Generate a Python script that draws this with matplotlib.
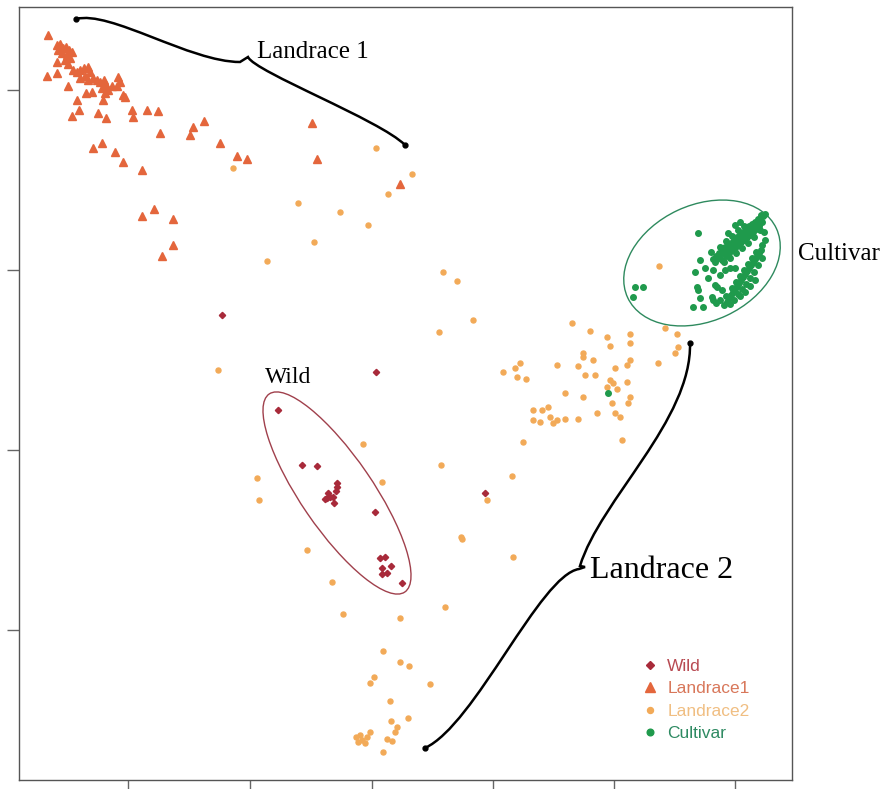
import numpy as np
import matplotlib.pyplot as plt
from matplotlib.patches import Ellipse, PathPatch
from matplotlib.path import Path

# ---------------- data (PC scores, arbitrary units) ----------------
wild_x = [22.2, 37.6, 48.5, 27.8, 30.2, 31.7, 33.7, 33.7, 33.6, 32.8, 32.7, 33.0,
          33.3, 33.4, 32.5, 37.5, 38.0, 38.5, 38.2, 39.1, 38.2, 38.7, 40.2]
wild_y = [46.5, 40.8, 28.7, 37.0, 31.5, 31.4, 29.7, 29.3, 28.9, 28.7, 28.2, 28.3,
          28.3, 27.7, 28.1, 26.8, 22.2, 22.3, 21.2, 21.4, 20.6, 20.7, 19.7]

land1_x = [4.8, 5.7, 6.0, 6.3, 6.6, 6.9, 7.2, 5.8, 6.2, 6.7, 7.0, 6.5, 5.7, 6.8,
           4.7, 5.7, 6.8, 7.3, 7.7, 8.0, 8.4, 8.8, 9.0, 8.5, 8.0, 8.8, 9.3, 9.7,
           10.0, 10.4, 10.6, 10.2, 10.8, 10.5, 11.2, 11.8, 12.0, 11.7, 12.3, 12.5,
           8.6, 9.2, 7.7, 7.9, 7.2, 9.8, 10.6, 10.3, 13.2, 13.3, 14.7, 15.8, 16.0,
           9.3, 10.2, 11.5, 12.3, 14.2, 19.3, 19.0, 20.4, 22.0, 23.7, 24.7, 31.2,
           31.7, 40.0, 14.2, 15.4, 17.3, 17.3, 16.2]
land1_y = [74.5, 73.5, 73.6, 73.2, 73.3, 73.0, 72.8, 73.0, 72.7, 72.5, 72.2, 72.0,
           71.8, 71.6, 70.4, 70.7, 69.4, 71.0, 70.8, 71.0, 71.2, 71.3, 70.8, 70.4,
           70.2, 70.0, 70.2, 70.0, 69.8, 70.0, 69.5, 69.2, 69.0, 68.7, 69.4, 70.3,
           69.8, 69.4, 68.5, 68.3, 68.7, 68.8, 68.0, 67.0, 66.4, 66.7, 66.2, 68.0,
           67.0, 66.3, 67.0, 66.9, 64.7, 63.2, 63.7, 62.8, 61.8, 61.0, 65.3, 64.5,
           65.9, 63.7, 62.4, 62.1, 65.7, 62.1, 59.6, 56.4, 57.1, 56.1, 53.5, 52.4]

land2_x = [37.6, 23.3, 29.8, 34.0, 36.8, 31.4, 26.7, 41.2, 38.8, 44.3, 45.7, 47.3,
           65.9, 57.2, 59.0, 60.7, 63.0, 66.5, 67.7, 67.8, 67.5, 65.8, 63.0, 63.0,
           62.7, 61.0, 58.3, 58.3, 59.3, 57.8, 55.7, 52.0, 51.5, 51.7, 50.3, 52.6,
           58.5, 59.5, 61.5, 61.0, 61.3, 61.7, 62.7, 56.5, 58.3, 60.7, 61.2, 63.0,
           62.8, 53.3, 54.2, 54.8, 55.0, 55.3, 55.7, 56.5, 54.0, 53.3, 57.8, 59.7,
           61.5, 62.0, 62.2, 52.3, 51.2, 21.8, 25.7, 25.9, 43.9, 36.3, 38.2, 44.1,
           48.7, 46.1, 46.2, 51.3, 30.7, 33.2, 34.3, 40.0, 44.5, 38.3, 40.0, 40.9,
           37.4, 37.0, 43.0, 39.0, 40.8, 39.1, 39.7, 39.5, 38.7, 39.2, 38.3, 36.0,
           36.2, 35.8, 36.7, 37.0, 36.5, 35.6]
land2_y = [63.2, 61.2, 57.7, 56.8, 55.5, 53.8, 51.9, 60.6, 58.6, 50.8, 49.9, 46.0,
           51.4, 45.7, 44.9, 44.3, 44.6, 45.2, 44.6, 43.3, 42.7, 41.7, 43.7, 42.0,
           41.5, 43.4, 42.7, 42.3, 42.0, 41.4, 41.5, 41.7, 41.2, 40.3, 40.8, 40.1,
           40.5, 40.5, 41.2, 40.0, 39.7, 39.1, 39.8, 38.7, 38.3, 39.3, 37.7, 38.3,
           37.7, 37.0, 37.0, 37.3, 36.3, 35.7, 36.0, 36.1, 35.8, 36.0, 36.1, 36.7,
           36.7, 36.3, 34.0, 33.8, 30.4, 41.0, 30.2, 28.0, 44.8, 33.6, 29.8, 31.5,
           28.0, 24.3, 24.1, 22.3, 23.0, 19.8, 16.6, 16.2, 17.3, 12.9, 11.8, 11.4,
           10.3, 9.7, 9.6, 7.9, 6.2, 5.9, 5.3, 4.8, 4.1, 3.9, 2.8, 4.5,
           4.0, 3.8, 4.3, 4.8, 3.7, 4.3]

cult_x = [71.5, 71.8, 72.0, 72.2, 72.4, 72.6, 72.7, 72.9, 73.0, 73.2, 73.3, 73.5,
          73.6, 73.8, 73.9, 74.1, 74.2, 74.4, 74.5, 74.7, 74.8, 75.0, 75.1, 75.3,
          75.4, 75.6, 75.7, 75.9, 76.0, 76.2, 76.3, 76.5, 76.1, 75.8, 75.5, 75.2,
          74.9, 74.6, 74.3, 74.0, 73.7, 73.4, 73.1, 72.8, 72.5, 72.2, 71.9, 71.6,
          71.3, 72.4, 73.0, 73.6, 74.2, 74.8, 75.4, 76.0, 74.4, 73.8, 73.2, 72.6,
          72.0, 71.1, 73.5, 72.8, 74.0,
          72.4, 72.7, 72.9, 73.1, 73.3, 73.5, 73.7, 73.9, 74.1, 74.3, 74.5, 74.7,
          74.9, 75.1, 75.3, 75.5, 75.7, 75.9, 76.1, 73.0, 73.4, 73.8, 74.2, 74.6,
          75.0, 75.4, 75.8, 76.2, 72.6, 73.2, 73.6, 74.0, 74.4, 74.8, 75.2, 75.6,
          74.0, 74.5, 75.0, 75.5, 72.0, 71.6, 71.3,
          72.0, 72.5, 73.0, 70.8, 71.5, 72.2, 73.5, 71.3, 76.5, 76.2, 76.4,
          69.8, 63.5, 64.3, 63.3, 69.5, 69.7, 69.8, 70.0, 69.3, 70.3, 71.7, 71.2,
          70.0, 70.5, 60.8]
cult_y = [51.8, 52.2, 52.5, 52.0, 52.8, 52.4, 53.1, 52.7, 53.4, 53.0, 53.6, 53.2,
          53.9, 53.5, 54.2, 53.8, 54.4, 54.0, 54.7, 54.3, 54.9, 54.5, 55.2, 54.8,
          55.4, 55.1, 55.7, 55.4, 56.0, 55.8, 56.4, 56.6, 56.5, 56.1, 55.8, 55.6,
          55.4, 55.1, 54.8, 54.6, 54.3, 54.0, 53.7, 53.5, 53.3, 53.0, 52.7, 52.4,
          52.1, 51.8, 52.2, 52.7, 53.2, 53.7, 54.3, 55.0, 55.4, 55.0, 54.4, 53.9,
          53.3, 52.8, 55.5, 54.7, 55.8,
          47.5, 47.8, 48.2, 48.5, 48.8, 49.1, 49.4, 49.7, 50.0, 50.3, 50.6, 50.9,
          51.2, 51.5, 51.8, 52.1, 52.4, 52.7, 53.0, 47.6, 48.0, 48.6, 49.1, 49.6,
          50.2, 50.8, 51.5, 52.2, 48.4, 49.2, 49.8, 50.4, 51.0, 51.6, 52.2, 52.8,
          48.4, 48.8, 49.4, 50.0, 48.0, 47.7, 48.0,
          50.5, 51.0, 51.2, 50.2, 49.5, 49.0, 51.2, 51.0, 54.0, 53.5, 54.8,
          54.7, 49.3, 49.3, 48.3, 50.8, 49.3, 49.0, 48.2, 47.3, 47.3, 49.3, 48.3,
          52.0, 51.2, 38.7]

groups = ['Wild', 'Landrace1', 'Landrace2', 'Cultivar']
col_wild = '#A82A3A'
col_land1 = '#E4663C'
col_land2 = '#F2AA58'
col_cult = '#1F9A4C'

# ---------------- figure ----------------
fig = plt.figure(figsize=(8.96, 7.89), dpi=100)
ax = fig.add_axes([19/896, 9/789, 773/896, 773/789])

h1, = ax.plot(wild_x, wild_y, 'D', ms=3.2, color=col_wild, mec=col_wild, ls='none')
h2, = ax.plot(land1_x, land1_y, '^', ms=5.5, color=col_land1, mec=col_land1, ls='none')
h3, = ax.plot(land2_x, land2_y, 'o', ms=3.6, color=col_land2, mec=col_land2, ls='none')
h4, = ax.plot(cult_x, cult_y, 'o', ms=4.0, color=col_cult, mec=col_cult, ls='none')

# group ellipses
ax.add_patch(Ellipse((70.2, 51.7), 16.4, 11.6, angle=25, fill=False,
                     ec='#2E8A5E', lw=1.0))
ax.add_patch(Ellipse((33.7, 28.7), 24.0, 7.2, angle=-55.6, fill=False,
                     ec='#A0404C', lw=1.0))

# braces
C4 = Path.CURVE4
brace1 = Path([(7.6, 76.1), (11.0, 77.0), (19.0, 71.8), (24.0, 71.8),
               (24.8, 72.3),
               (25.5, 70.8), (38.0, 66.0), (40.5, 63.5)],
              [Path.MOVETO, C4, C4, C4, Path.LINETO, C4, C4, C4])
brace2 = Path([(69.0, 43.7), (69.2, 36.0), (60.0, 28.0), (58.0, 21.4),
               (58.5, 21.3), (57.9, 21.1),
               (54.0, 20.5), (47.5, 5.5), (42.5, 3.2)],
              [Path.MOVETO, C4, C4, C4, Path.LINETO, Path.LINETO, C4, C4, C4])
for b in (brace1, brace2):
    ax.add_patch(PathPatch(b, fill=False, ec='black', lw=1.8, capstyle='round'))
# thick brace ends
ax.plot([7.6, 40.5, 69.0, 42.5], [76.1, 63.5, 43.7, 3.2], 'o', ms=3.5, color='black')

serif = 'Liberation Serif'
ax.text(25.7, 72.2, 'Landrace 1', fontsize=18, family=serif, va='baseline')
ax.text(26.5, 39.7, 'Wild', fontsize=17, family=serif, va='baseline')
ax.text(79.8, 52.0, 'Cultivar', fontsize=18, family=serif, va='baseline', clip_on=False)
ax.text(59.0, 20.2, 'Landrace 2', fontsize=23, family=serif, va='baseline')

leg = ax.legend([h1, h2, h3, h4], groups, loc='upper left', bbox_to_anchor=(0.787, 0.177),
                frameon=False, handlelength=0.8, handletextpad=0.6, labelspacing=0.42,
                markerscale=1.2,
                prop={'family': 'Liberation Sans', 'size': 12.5},
                labelcolor=['#B84A52', '#D8775A', '#F0BE82', '#2E8A62'])

ax.set_xlim(1.9, 79.2)
ax.set_ylim(0, 77.3)
ax.set_xticks([12.8, 25.0, 37.2, 49.3, 61.4, 73.5])
ax.set_yticks([15, 33, 51, 69])
ax.set_xticklabels([])
ax.set_yticklabels([])
ax.tick_params(length=8.5, width=1.0, color='#666666')
for s in ax.spines.values():
    s.set_color('#555555')
    s.set_linewidth(1.0)

plt.savefig('out.png', dpi=100)
